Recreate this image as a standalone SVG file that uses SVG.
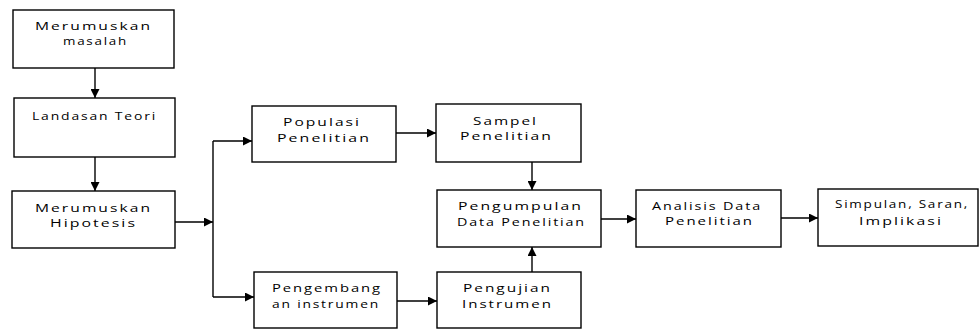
<svg xmlns="http://www.w3.org/2000/svg" width="979" height="329" viewBox="0 0 979 329">
<style>
.box{fill:#fff;stroke:#000;stroke-width:1.4}
.t{font-family:"Open Sans","Liberation Sans",sans-serif;font-size:11.5px;letter-spacing:1.5px;fill:#000}
.c{fill:none;stroke:#000;stroke-width:1.4}
</style>
<defs>
<marker id="ah" viewBox="0 0 10 10" refX="10" refY="5" markerWidth="9" markerHeight="9" markerUnits="userSpaceOnUse" orient="auto">
<path d="M0,0 L10,5 L0,10 z" fill="#000"/>
</marker>
</defs>
<rect width="979" height="329" fill="#fff"/>
<g id="n1"><rect class="box" x="13" y="10" width="161" height="58"/>
<text class="t" x="35" y="30" textLength="117" lengthAdjust="spacingAndGlyphs">Merumuskan</text>
<text class="t" x="63" y="45" textLength="65" lengthAdjust="spacingAndGlyphs">masalah</text></g>
<g id="n2"><rect class="box" x="14" y="98" width="161" height="59"/>
<text class="t" x="32" y="120" textLength="125" lengthAdjust="spacingAndGlyphs">Landasan Teori</text></g>
<g id="n3"><rect class="box" x="12" y="191" width="163" height="57"/>
<text class="t" x="35" y="212" textLength="117" lengthAdjust="spacingAndGlyphs">Merumuskan</text>
<text class="t" x="50" y="227" textLength="87" lengthAdjust="spacingAndGlyphs">Hipotesis</text></g>
<g id="n4"><rect class="box" x="252" y="106" width="144" height="56"/>
<text class="t" x="283" y="126" textLength="78" lengthAdjust="spacingAndGlyphs">Populasi</text>
<text class="t" x="277" y="142" textLength="94" lengthAdjust="spacingAndGlyphs">Penelitian</text></g>
<g id="n5"><rect class="box" x="254" y="272" width="143" height="56"/>
<text class="t" x="272" y="292" textLength="110" lengthAdjust="spacingAndGlyphs">Pengembang</text>
<text class="t" x="272" y="308" textLength="108" lengthAdjust="spacingAndGlyphs">an instrumen</text></g>
<g id="n6"><rect class="box" x="436" y="104" width="145" height="58"/>
<text class="t" x="473" y="125" textLength="65" lengthAdjust="spacingAndGlyphs">Sampel</text>
<text class="t" x="460" y="140" textLength="93" lengthAdjust="spacingAndGlyphs">Penelitian</text></g>
<g id="n7"><rect class="box" x="437" y="190" width="164" height="57"/>
<text class="t" x="458" y="210" textLength="125" lengthAdjust="spacingAndGlyphs">Pengumpulan</text>
<text class="t" x="457" y="226" textLength="129" lengthAdjust="spacingAndGlyphs">Data Penelitian</text></g>
<g id="n8"><rect class="box" x="437" y="272" width="144" height="56"/>
<text class="t" x="463" y="292" textLength="89" lengthAdjust="spacingAndGlyphs">Pengujian</text>
<text class="t" x="462" y="308" textLength="91" lengthAdjust="spacingAndGlyphs">Instrumen</text></g>
<g id="n9"><rect class="box" x="636" y="190" width="145" height="57"/>
<text class="t" x="652" y="210" textLength="110" lengthAdjust="spacingAndGlyphs">Analisis Data</text>
<text class="t" x="665" y="225" textLength="89" lengthAdjust="spacingAndGlyphs">Penelitian</text></g>
<g id="n10"><rect class="box" x="818" y="189" width="160" height="57"/>
<text class="t" x="835" y="208" textLength="134" lengthAdjust="spacingAndGlyphs">Simpulan, Saran,</text>
<text class="t" x="859" y="225" textLength="84" lengthAdjust="spacingAndGlyphs">Implikasi</text></g>
<g id="connectors">
<path class="c" d="M95,68 V98" marker-end="url(#ah)"/>
<path class="c" d="M95,157 V191" marker-end="url(#ah)"/>
<path class="c" d="M175,222 H213" marker-end="url(#ah)"/>
<path class="c" d="M213,141 V297"/>
<path class="c" d="M213,141 H252" marker-end="url(#ah)"/>
<path class="c" d="M213,297 H254" marker-end="url(#ah)"/>
<path class="c" d="M396,133 H436" marker-end="url(#ah)"/>
<path class="c" d="M397,301 H437" marker-end="url(#ah)"/>
<path class="c" d="M532,162 V190" marker-end="url(#ah)"/>
<path class="c" d="M532,272 V247" marker-end="url(#ah)"/>
<path class="c" d="M601,219 H636" marker-end="url(#ah)"/>
<path class="c" d="M781,218 H818" marker-end="url(#ah)"/>
</g>
</svg>
